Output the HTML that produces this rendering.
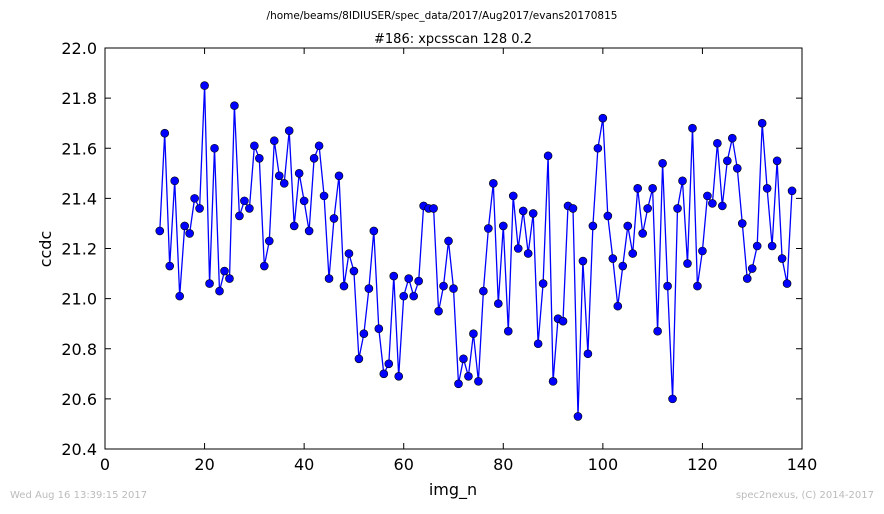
<!DOCTYPE html>
<html><head><meta charset="utf-8"><style>
body{margin:0;background:#fff;width:884px;height:509px;overflow:hidden}
svg text{font-family:"DejaVu Sans","Liberation Sans",sans-serif}
</style></head><body>
<svg id="chart" width="884" height="509">
<text x="442" y="19" font-size="10.5" text-anchor="middle">/home/beams/8IDIUSER/spec_data/2017/Aug2017/evans20170815</text>
<text x="453" y="43" font-size="13" text-anchor="middle">#186: xpcsscan 128 0.2</text>
<text x="453" y="495" font-size="16" text-anchor="middle">img_n</text>
<text x="51" y="249" font-size="16" text-anchor="middle" transform="rotate(-90 51 249)">ccdc</text>
<text x="10" y="498" font-size="10" fill="#bbb">Wed Aug 16 13:39:15 2017</text>
<text x="874" y="498" font-size="10" fill="#bbb" text-anchor="end">spec2nexus, (C) 2014-2017</text>
<g id="axes"></g>
<g id="marks"></g>
<rect x="105" y="48" width="697" height="401" fill="none" stroke="#000" stroke-width="1"/>
</svg>
<script>
const xStart = 11;
const yValues = [21.27,21.66,21.13,21.47,21.01,21.29,21.26,21.40,21.36,21.85,21.06,21.60,21.03,21.11,21.08,21.77,21.33,21.39,21.36,21.61,21.56,21.13,21.23,21.63,21.49,21.46,21.67,21.29,21.50,21.39,21.27,21.56,21.61,21.41,21.08,21.32,21.49,21.05,21.18,21.11,20.76,20.86,21.04,21.27,20.88,20.70,20.74,21.09,20.69,21.01,21.08,21.01,21.07,21.37,21.36,21.36,20.95,21.05,21.23,21.04,20.66,20.76,20.69,20.86,20.67,21.03,21.28,21.46,20.98,21.29,20.87,21.41,21.20,21.35,21.18,21.34,20.82,21.06,21.57,20.67,20.92,20.91,21.37,21.36,20.53,21.15,20.78,21.29,21.60,21.72,21.33,21.16,20.97,21.13,21.29,21.18,21.44,21.26,21.36,21.44,20.87,21.54,21.05,20.60,21.36,21.47,21.14,21.68,21.05,21.19,21.41,21.38,21.62,21.37,21.55,21.64,21.52,21.30,21.08,21.12,21.21,21.70,21.44,21.21,21.55,21.16,21.06,21.43];
const xTicks = [0,20,40,60,80,100,120,140];
const yTicks = [20.4,20.6,20.8,21.0,21.2,21.4,21.6,21.8,22.0];
const X0=105,X1=802,Y0=449,Y1=48;
const sx = v => X0 + (v-0)/(140-0)*(X1-X0);
const sy = v => Y0 - (v-20.4)/(22.0-20.4)*(Y0-Y1);
const NS="http://www.w3.org/2000/svg";
const axes=document.getElementById('axes'), marks=document.getElementById('marks');
function mk(tag,attrs,parent){const e=document.createElementNS(NS,tag);for(const k in attrs)e.setAttribute(k,attrs[k]);parent.appendChild(e);return e;}
xTicks.forEach(t=>{
  const x=sx(t);
  const a=mk('line',{x1:x,x2:x,y1:Y0,y2:Y0-6,stroke:'#000'},axes);
  
  
  const b=mk('line',{x1:x,x2:x,y1:Y1,y2:Y1+6,stroke:'#000'},axes);
  
  
  const l=mk('text',{x:x,y:Y0+21,'font-size':16,'text-anchor':'middle'},axes);
  l.textContent=t;
  
  
});
yTicks.forEach(t=>{
  const y=sy(t);
  const a=mk('line',{x1:X0,x2:X0+6,y1:y,y2:y,stroke:'#000'},axes);
  
  
  const b=mk('line',{x1:X1,x2:X1-6,y1:y,y2:y,stroke:'#000'},axes);
  
  
  const l=mk('text',{x:X0-8,y:y+6,'font-size':16,'text-anchor':'end'},axes);
  l.textContent=t.toFixed(1);
  
  
});
const pts=yValues.map((v,i)=>sx(xStart+i).toFixed(1)+','+sy(v).toFixed(1)).join(' ');
const line=mk('polyline',{points:pts,fill:'none',stroke:'#0000ff','stroke-width':1.3},marks);


yValues.forEach((v,i)=>{
  const c=mk('circle',{cx:sx(xStart+i),cy:sy(v),r:4,fill:'#0000ff',stroke:'#000','stroke-width':0.6},marks);
  
  
});
</script>
</body></html>
